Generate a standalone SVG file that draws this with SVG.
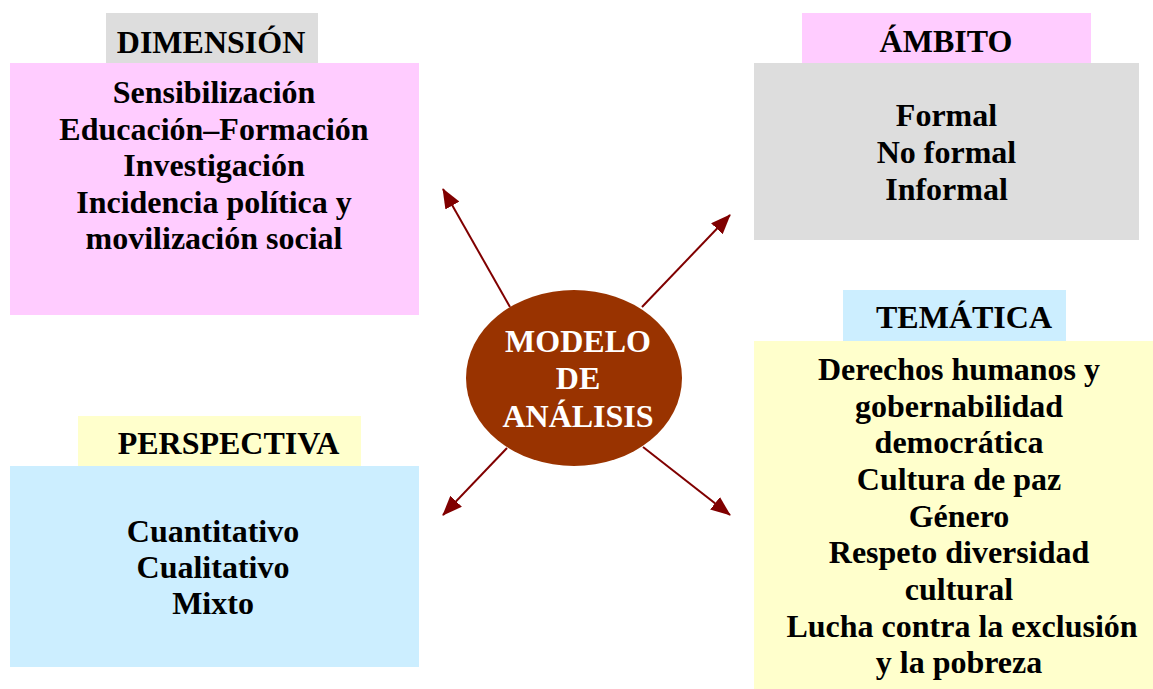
<svg xmlns="http://www.w3.org/2000/svg" width="1153" height="689" viewBox="0 0 1153 689">
<style>
text{font-family:"Liberation Serif","Times New Roman",serif;font-weight:bold;font-size:32px;fill:#000;text-anchor:middle}
.w{fill:#ffffff}
.pink{fill:#ffccff}.gray{fill:#dddddd}.blue{fill:#cceeff}.yellow{fill:#ffffcc}
.conn{stroke:#800000;stroke-width:2;fill:none;marker-end:url(#ah)}
</style>
<defs>
<marker id="ah" markerUnits="userSpaceOnUse" markerWidth="20" markerHeight="16" viewBox="0 0 20 16" refX="19" refY="8" orient="auto">
<path d="M0,0 L20,8 L0,16 Z" fill="#800000"/>
</marker>
</defs>
<rect width="1153" height="689" fill="#ffffff"/>
<g id="connectors">
<line class="conn" x1="510" y1="307" x2="443" y2="189"/>
<line class="conn" x1="642" y1="307" x2="730" y2="215"/>
<line class="conn" x1="507" y1="448" x2="443" y2="515"/>
<line class="conn" x1="643" y1="447" x2="730" y2="515"/>
</g>
<g id="dimension">
<rect class="gray" x="106" y="13" width="212" height="50"/>
<text x="211" y="53">DIMENSIÓN</text>
<rect class="pink" x="10" y="63" width="409" height="252"/>
<text x="214" y="103">Sensibilización</text>
<text x="214" y="140">Educación–Formación</text>
<text x="214" y="176">Investigación</text>
<text x="214" y="213">Incidencia política y</text>
<text x="214" y="249">movilización social</text>
</g>
<g id="ambito">
<rect class="pink" x="802" y="13" width="289" height="50"/>
<text x="946" y="52">ÁMBITO</text>
<rect class="gray" x="754" y="63" width="385" height="177"/>
<text x="946.5" y="126">Formal</text>
<text x="946.5" y="163">No formal</text>
<text x="946.5" y="200">Informal</text>
</g>
<g id="tematica">
<rect class="blue" x="843" y="290" width="223" height="51"/>
<text x="964" y="328">TEMÁTICA</text>
<rect class="yellow" x="754" y="341" width="399" height="348"/>
<text x="959" y="380">Derechos humanos y</text>
<text x="959" y="417">gobernabilidad</text>
<text x="959" y="453">democrática</text>
<text x="959" y="490">Cultura de paz</text>
<text x="959" y="527">Género</text>
<text x="959" y="563">Respeto diversidad</text>
<text x="959" y="600">cultural</text>
<text x="962" y="637">Lucha contra la exclusión</text>
<text x="959" y="673">y la pobreza</text>
</g>
<g id="perspectiva">
<rect class="yellow" x="78" y="416" width="283" height="50"/>
<text x="228.5" y="454">PERSPECTIVA</text>
<rect class="blue" x="10" y="466" width="409" height="201"/>
<text x="213" y="542">Cuantitativo</text>
<text x="213" y="578">Cualitativo</text>
<text x="213" y="614">Mixto</text>
</g>
<g id="modelo">
<ellipse cx="574" cy="378" rx="108" ry="88" fill="#993300"/>
<text class="w" x="578" y="352">MODELO</text>
<text class="w" x="578" y="389">DE</text>
<text class="w" x="578" y="427">ANÁLISIS</text>
</g>
</svg>
